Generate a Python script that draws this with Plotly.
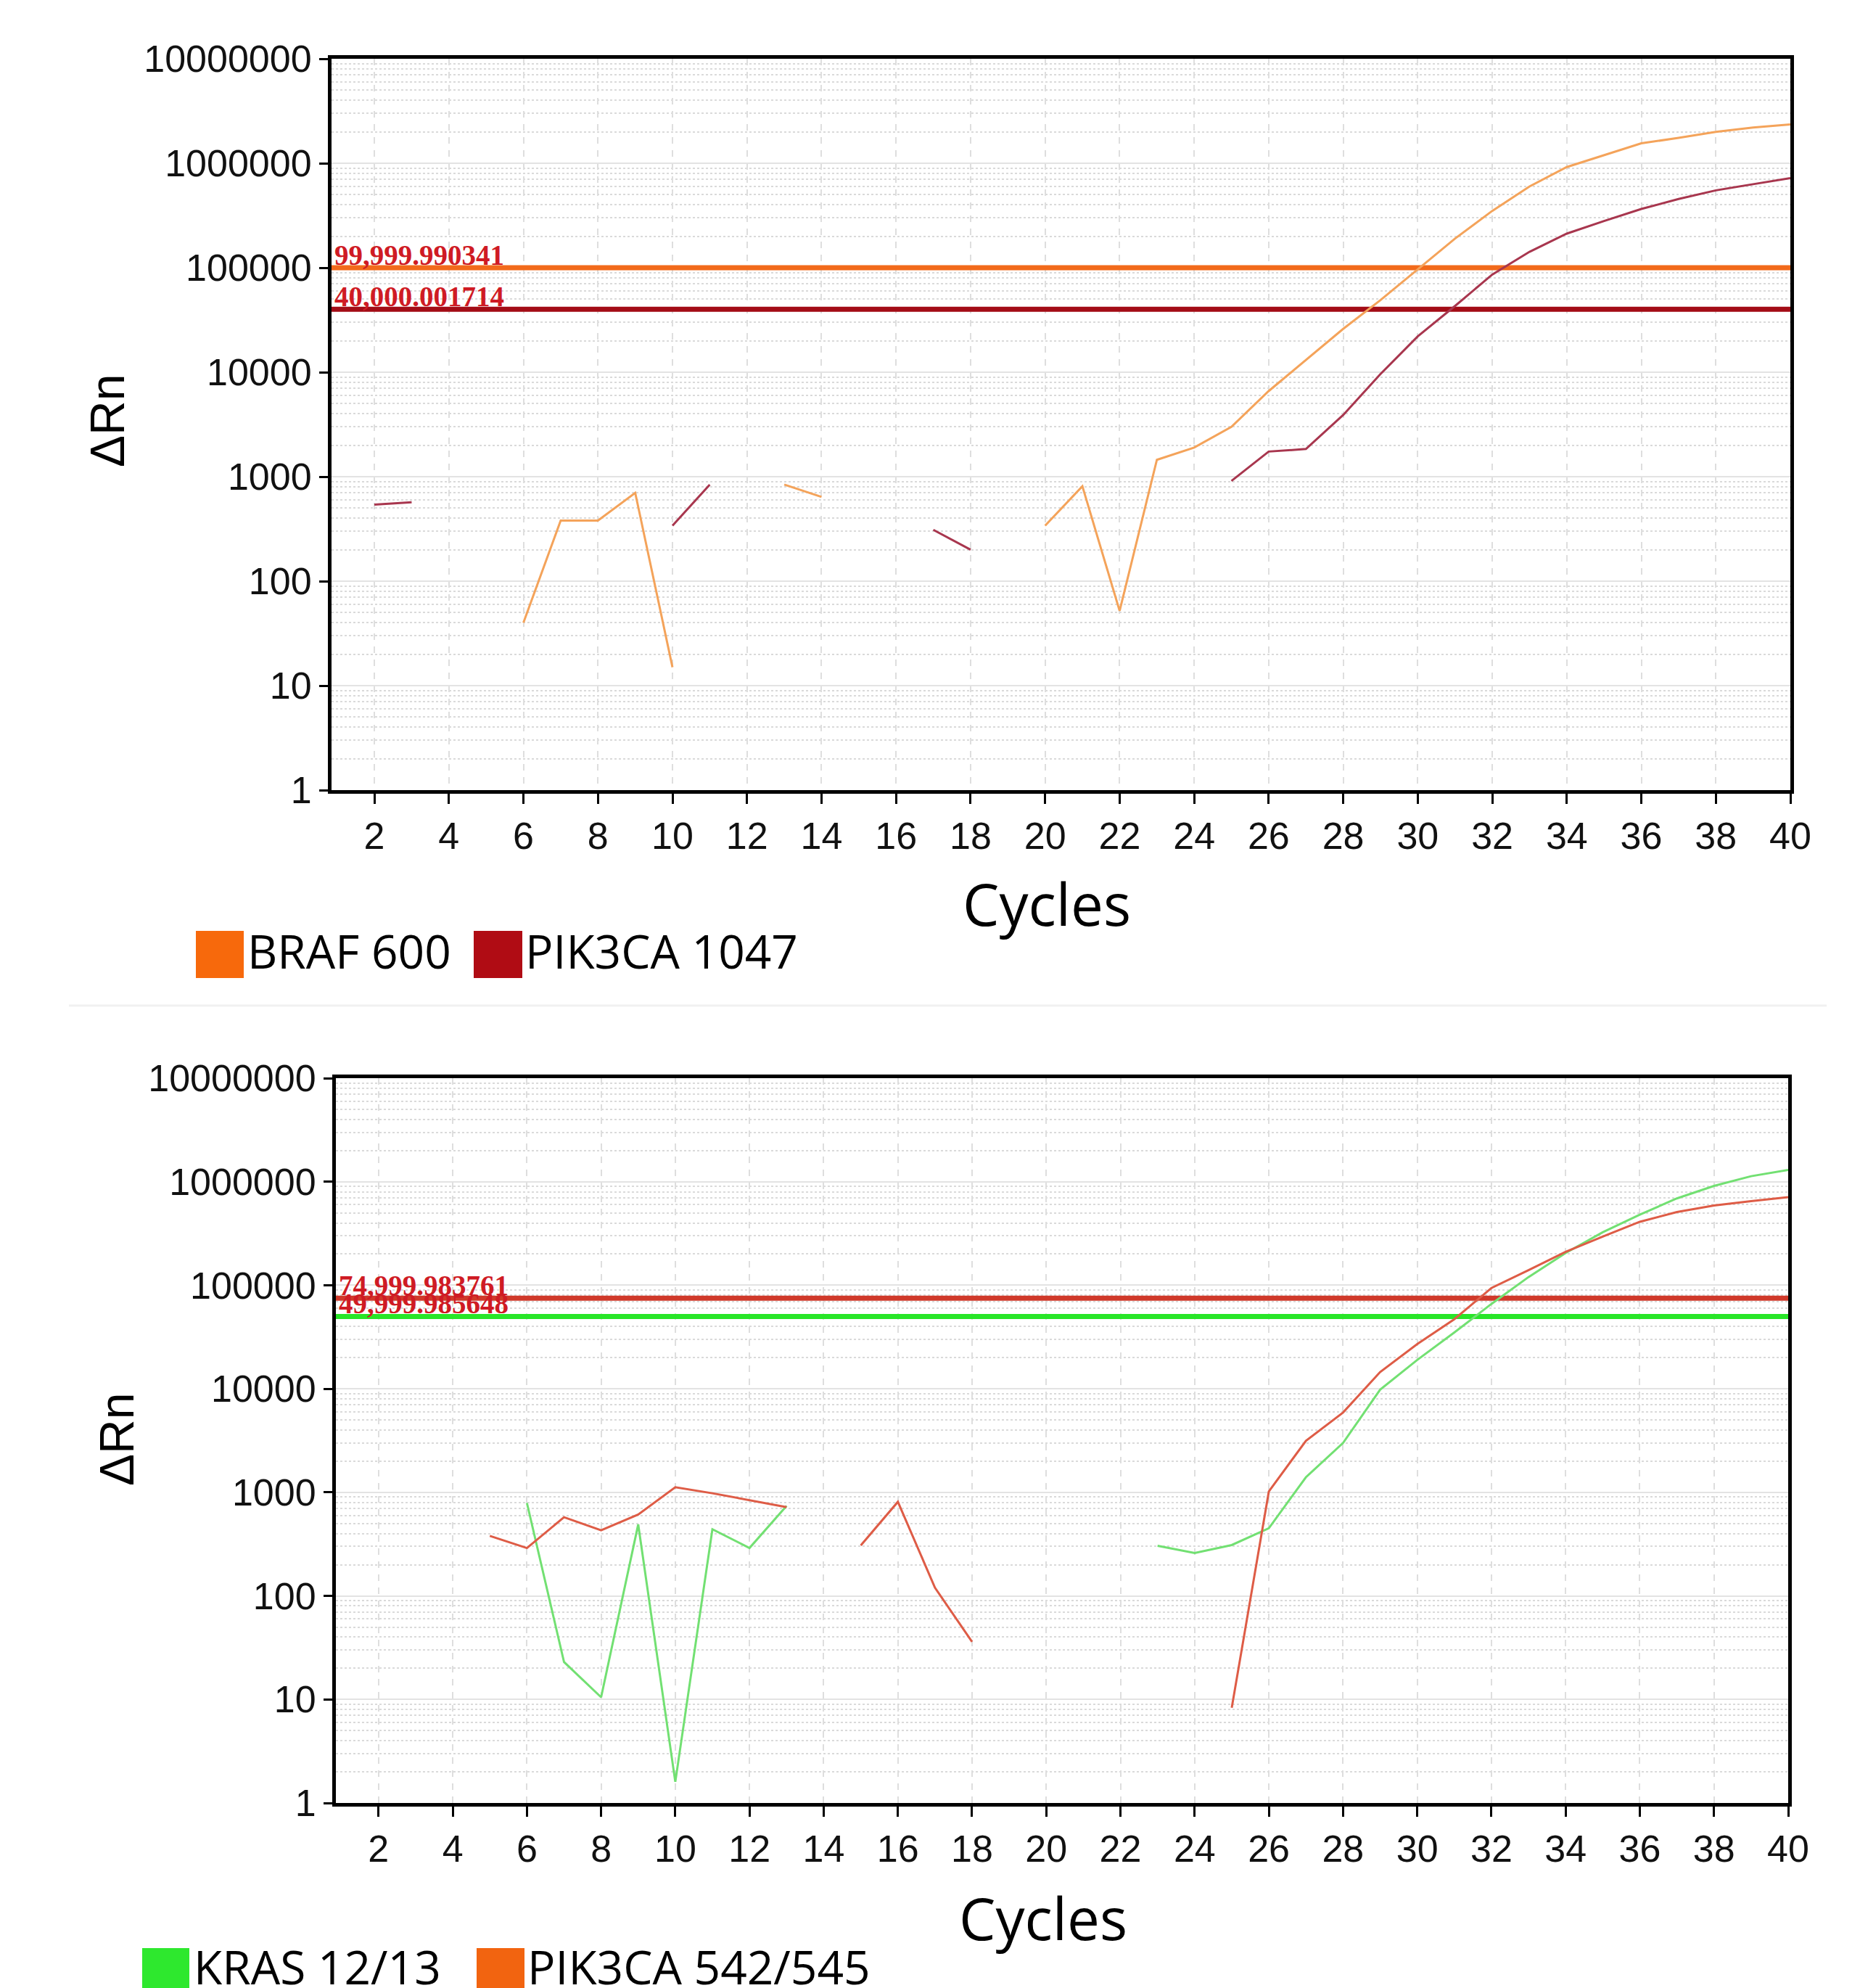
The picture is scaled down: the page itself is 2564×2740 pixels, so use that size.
import math
import plotly.graph_objects as go

W, H = 2564, 2740

# ---------------- data ----------------
cycles = list(range(1, 41))
N = None

braf_600 = [N, N, N, N, N, 40, 380, 380, 700, 15,
            N, N, 840, 640, N, N, N, N, N, 340,
            810, 52, 1450, 1900, 3000, 6600, 13000, 26000, 49000, 96000,
            190000, 350000, 600000, 920000, 1200000, 1550000, 1750000, 2000000, 2200000, 2350000]

pik3ca_1047 = [N, 540, 570, N, N, N, N, N, N, 340,
               840, N, N, N, N, N, 310, 200, N, N,
               N, N, N, N, 910, 1740, 1840, 3900, 9600, 22000,
               43000, 86000, 142000, 212000, 280000, 365000, 455000, 550000, 630000, 720000]

kras_12_13 = [N, N, N, N, N, 790, 23, 10.5, 490, 1.6,
              440, 290, 740, N, N, N, N, N, N, N,
              N, N, 305, 260, 310, 450, 1400, 3000, 9800, 19000,
              35000, 66000, 120000, 205000, 325000, 480000, 690000, 910000, 1130000, 1300000]

pik3ca_542_545 = [N, N, N, N, 380, 290, 575, 430, 610, 1120,
                  980, 840, 720, N, 307, 810, 120, 36, N, N,
                  N, N, N, N, 8.3, 1020, 3150, 5900, 14500, 27000,
                  47000, 94000, 140000, 210000, 295000, 410000, 510000, 590000, 650000, 710000]

top_thresholds = [100000, 40000]
top_threshold_labels = ["99,999.990341", "40,000.001714"]
bottom_thresholds = [75000, 50000]
bottom_threshold_labels = ["74,999.983761", "49,999.985648"]

y_tickvals = [1, 10, 100, 1000, 10000, 100000, 1000000, 10000000]
y_ticktext = ["1", "10", "100", "1000", "10000", "100000", "1000000", "10000000"]
x_tickvals = list(range(2, 41, 2))
X_RANGE = [0.85, 40]

top_legend = ["BRAF 600", "PIK3CA 1047"]
bottom_legend = ["KRAS 12/13", "PIK3CA 542/545"]

# ---------------- styles ----------------
C_BRAF_LINE = "#f4a35a"
C_BRAF_THR = "#f26a1b"
C_BRAF_SW = "#f7690c"
C_P1047_LINE = "#a8364e"
C_P1047_THR = "#a30c16"
C_P1047_SW = "#b00c14"
C_KRAS_LINE = "#72e072"
C_KRAS_THR = "#28e628"
C_KRAS_SW = "#2ee82e"
C_P542_LINE = "#de5c46"
C_P542_THR = "#d0392a"
C_P542_SW = "#f26410"
LABEL_RED = "#cf1b24"


def px(x):
    return x / W


def py(y):
    return 1 - y / H


fig = go.Figure()

# threshold lines (drawn first, under the curves)
for thr, col in zip(top_thresholds, [C_BRAF_THR, C_P1047_THR]):
    fig.add_trace(go.Scatter(x=X_RANGE, y=[thr, thr], mode="lines",
                             line=dict(color=col, width=7), xaxis="x", yaxis="y",
                             showlegend=False, hoverinfo="skip"))
for thr, col in zip(bottom_thresholds, [C_P542_THR, C_KRAS_THR]):
    fig.add_trace(go.Scatter(x=X_RANGE, y=[thr, thr], mode="lines",
                             line=dict(color=col, width=7), xaxis="x2", yaxis="y2",
                             showlegend=False, hoverinfo="skip"))

line_w = 3
fig.add_trace(go.Scatter(x=cycles, y=braf_600, mode="lines", connectgaps=False,
                         line=dict(color=C_BRAF_LINE, width=line_w), xaxis="x", yaxis="y",
                         showlegend=False))
fig.add_trace(go.Scatter(x=cycles, y=pik3ca_1047, mode="lines", connectgaps=False,
                         line=dict(color=C_P1047_LINE, width=line_w), xaxis="x", yaxis="y",
                         showlegend=False))
fig.add_trace(go.Scatter(x=cycles, y=kras_12_13, mode="lines", connectgaps=False,
                         line=dict(color=C_KRAS_LINE, width=line_w), xaxis="x2", yaxis="y2",
                         showlegend=False))
fig.add_trace(go.Scatter(x=cycles, y=pik3ca_542_545, mode="lines", connectgaps=False,
                         line=dict(color=C_P542_LINE, width=line_w), xaxis="x2", yaxis="y2",
                         showlegend=False))

tick_font = dict(family="Liberation Sans, Arial, sans-serif", size=52, color="#111")


def xaxis_cfg(domain, anchor):
    return dict(domain=domain, anchor=anchor, range=X_RANGE, automargin=False,
                tickmode="array", tickvals=x_tickvals, ticks="outside", ticklen=14,
                tickwidth=3, tickcolor="black", tickfont=tick_font,
                showline=True, linecolor="black", linewidth=5, mirror=True,
                showgrid=True, gridcolor="#dedede", gridwidth=1.5, griddash="dash",
                zeroline=False)


def yaxis_cfg(domain, anchor):
    return dict(domain=domain, anchor=anchor, type="log", range=[0, 7], automargin=False,
                tickmode="array", tickvals=y_tickvals, ticktext=y_ticktext,
                ticks="outside", ticklen=12, tickwidth=3, tickcolor="black",
                tickfont=tick_font,
                showline=True, linecolor="black", linewidth=5, mirror=True,
                showgrid=True, gridcolor="#e3e3e3", gridwidth=1.5,
                minor=dict(dtick="D1", showgrid=True, gridcolor="#dadada",
                           griddash="dot", gridwidth=1.5, ticks=""),
                zeroline=False)


top_xd = [px(449), px(2460)]
top_yd = [py(1081), py(73)]
bot_xd = [px(455), px(2457)]
bot_yd = [py(2477), py(1478)]

fig.update_layout(
    width=W, height=H,
    margin=dict(l=0, r=0, t=0, b=0, autoexpand=False),
    paper_bgcolor="white", plot_bgcolor="white",
    xaxis=xaxis_cfg(top_xd, "y"),
    yaxis=yaxis_cfg(top_yd, "x"),
    xaxis2=xaxis_cfg(bot_xd, "y2"),
    yaxis2=yaxis_cfg(bot_yd, "x2"),
)

shapes = []
annotations = []

# threshold labels (annotation y on a log axis is given in log10 units)
label_font = dict(family="Liberation Serif, Times New Roman, serif", size=39, color=LABEL_RED)
for thr, lab in zip(top_thresholds, top_threshold_labels):
    annotations.append(dict(text="<b>" + lab + "</b>", xref="x", yref="y",
                            x=X_RANGE[0] + 0.04, y=math.log10(thr),
                            xanchor="left", yanchor="bottom", showarrow=False, font=label_font,
                            yshift=-6))
for thr, lab in zip(bottom_thresholds, bottom_threshold_labels):
    annotations.append(dict(text="<b>" + lab + "</b>", xref="x2", yref="y2",
                            x=X_RANGE[0] + 0.04, y=math.log10(thr),
                            xanchor="left", yanchor="bottom", showarrow=False, font=label_font,
                            yshift=-6))

# axis titles
title_font = dict(family="Open Sans, sans-serif", size=80, color="black")
yt_font = dict(family="Liberation Sans, Arial, sans-serif", size=66, color="black")
annotations.append(dict(text="Cycles", xref="paper", yref="paper", x=px(1435), y=py(1236),
                        xanchor="center", yanchor="middle", showarrow=False, font=title_font))
annotations.append(dict(text="Cycles", xref="paper", yref="paper", x=px(1430), y=py(2634),
                        xanchor="center", yanchor="middle", showarrow=False, font=title_font))
annotations.append(dict(text="ΔRn", xref="paper", yref="paper", x=px(140), y=py(572),
                        xanchor="center", yanchor="middle", showarrow=False, font=yt_font,
                        textangle=-90))
annotations.append(dict(text="ΔRn", xref="paper", yref="paper", x=px(153), y=py(1976),
                        xanchor="center", yanchor="middle", showarrow=False, font=yt_font,
                        textangle=-90))

# legends
leg_font = dict(family="Open Sans, sans-serif", size=64, color="black")


def legend_item(x0, x1, y0, y1, color, text, tx, ty):
    shapes.append(dict(type="rect", xref="paper", yref="paper",
                       x0=px(x0), x1=px(x1), y0=py(y1), y1=py(y0),
                       fillcolor=color, line=dict(width=0)))
    annotations.append(dict(text=text, xref="paper", yref="paper", x=px(tx), y=py(ty),
                            xanchor="left", yanchor="middle", showarrow=False, font=leg_font))


legend_item(262, 328, 1275, 1340, C_BRAF_SW, top_legend[0], 331, 1302)
legend_item(645, 712, 1275, 1340, C_P1047_SW, top_legend[1], 714, 1302)
legend_item(188, 253, 2677, 2740, C_KRAS_SW, bottom_legend[0], 257, 2702)
legend_item(649, 715, 2677, 2740, C_P542_SW, bottom_legend[1], 717, 2702)

# faint separator
shapes.append(dict(type="line", xref="paper", yref="paper", x0=px(87), x1=px(2510),
                   y0=py(1378), y1=py(1378), line=dict(color="#f1f1f1", width=3)))

fig.update_layout(shapes=shapes, annotations=annotations)

fig.write_html("out.html")
